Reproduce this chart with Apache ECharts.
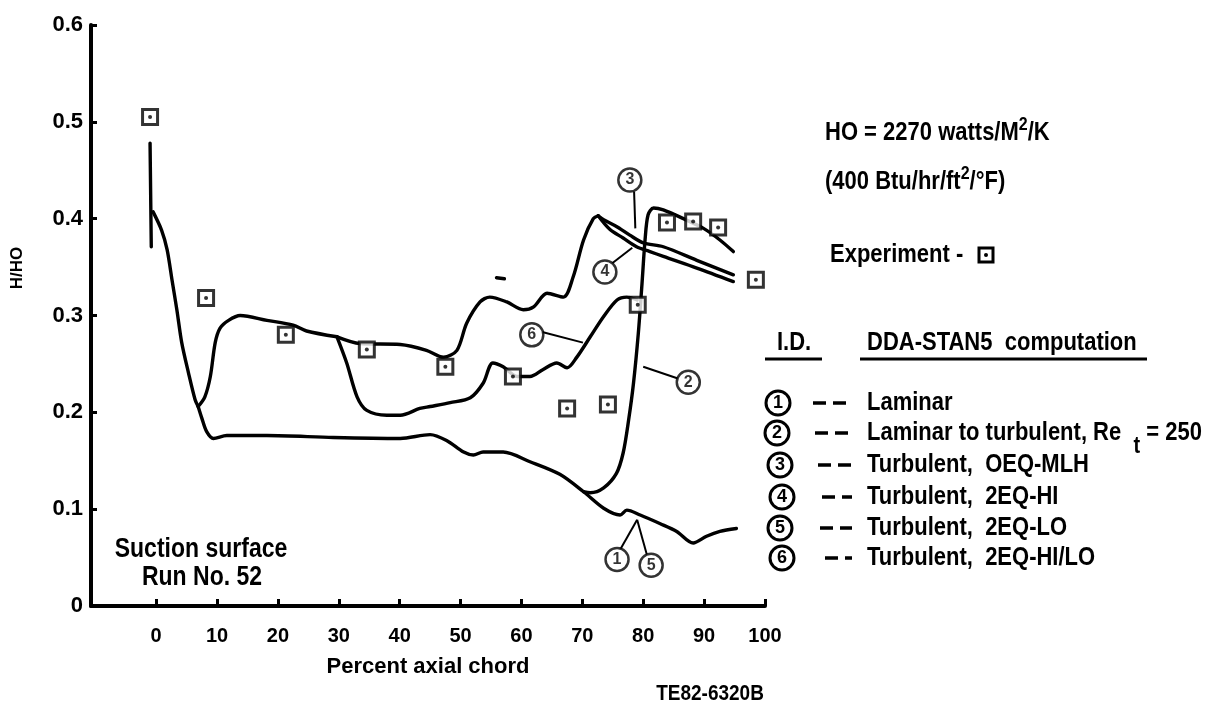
<!DOCTYPE html>
<html>
<head>
<meta charset="utf-8">
<script src="https://cdn.jsdelivr.net/npm/echarts@6/dist/echarts.min.js"></script>
<style>
  html, body { margin: 0; padding: 0; background: #fff; }
  #chart { width: 1225px; height: 701px; }
</style>
</head>
<body>
<div id="chart"></div>
<script>
// ---- data -------------------------------------------------------------
const xTicks = [0, 10, 20, 30, 40, 50, 60, 70, 80, 90, 100];

// Experiment (boxed points)
const expX = [-1.0, 8.2, 21.3, 34.6, 47.5, 58.6, 67.5, 74.2, 79.1, 83.9, 88.2, 92.3, 98.5];
const expY = [0.505, 0.318, 0.280, 0.265, 0.247, 0.237, 0.204, 0.208, 0.311, 0.396, 0.397, 0.391, 0.337];

// Stagnation spike at the leading edge
const spikeX = [-1.0, -0.8];
const spikeY = [0.478, 0.371];

// Leading-edge drop common to every computation
const leadX = [-0.5, 0.9, 1.8, 2.6, 3.4, 4.2, 5.3, 6.4, 6.9];
const leadY = [0.407, 0.388, 0.368, 0.337, 0.306, 0.272, 0.241, 0.213, 0.206];

// (1) Laminar and (5) Turbulent 2EQ-LO
const laminarX = [6.9, 7.5, 8.3, 9.4, 11.6, 18.2, 29.1, 40.1, 45.0, 47.7, 50.5, 52.1, 53.7, 57.0, 61.4, 66.3, 70.2, 73.5, 76.2, 77.3, 79.5, 82.8, 85.5, 88.2, 90.4, 92.6, 95.3];
const laminarY = [0.206, 0.194, 0.180, 0.173, 0.176, 0.176, 0.174, 0.173, 0.177, 0.171, 0.159, 0.156, 0.159, 0.159, 0.149, 0.136, 0.118, 0.101, 0.094, 0.099, 0.094, 0.085, 0.077, 0.065, 0.072, 0.077, 0.080];

// Turbulent plateau shared by (3), (4) and (6)
const plateauX = [6.9, 8.0, 8.9, 9.7, 10.5, 11.9, 13.8, 18.2, 22.5, 24.7, 29.7];
const plateauY = [0.206, 0.216, 0.237, 0.272, 0.287, 0.295, 0.300, 0.295, 0.290, 0.284, 0.278];

// Rise shared by (3) and (4)
const riseX = [29.7, 33.5, 40.1, 44.4, 47.2, 49.4, 51.0, 53.2, 54.8, 57.6, 60.3, 62.0, 64.2, 66.9, 68.5, 70.2, 71.8, 72.6];
const riseY = [0.278, 0.271, 0.270, 0.264, 0.257, 0.264, 0.292, 0.314, 0.319, 0.314, 0.306, 0.309, 0.323, 0.319, 0.340, 0.378, 0.400, 0.403];

// (3) Turbulent, 0EQ-MLH
const c3X = [72.6, 73.5, 75.6, 77.8, 80.0, 83.3, 88.8, 94.8];
const c3Y = [0.403, 0.399, 0.392, 0.383, 0.375, 0.371, 0.357, 0.342];

// (4) Turbulent, 2EQ-HI
const c4X = [72.6, 74.5, 76.7, 78.9, 81.1, 83.3, 88.8, 94.8];
const c4Y = [0.403, 0.389, 0.380, 0.371, 0.366, 0.361, 0.349, 0.335];

// (6) Turbulent, 2EQ-HI/LO
const c6X = [29.7, 31.3, 33.0, 34.6, 37.9, 40.1, 43.3, 45.0, 48.3, 51.6, 53.7, 55.3, 57.0, 59.3, 61.4, 63.5, 65.8, 67.5, 69.1, 71.3, 73.5, 75.7, 77.3, 79.0];
const c6Y = [0.278, 0.251, 0.216, 0.202, 0.197, 0.197, 0.204, 0.206, 0.210, 0.215, 0.230, 0.251, 0.247, 0.237, 0.237, 0.244, 0.251, 0.246, 0.257, 0.278, 0.299, 0.316, 0.319, 0.316];

// (2) Laminar to turbulent, Re_t = 250
const c2X = [70.2, 71.3, 73.5, 75.6, 76.7, 77.6, 78.4, 79.2, 79.8, 80.3, 80.8, 81.7, 83.3, 86.6, 89.9, 92.6, 94.8];
const c2Y = [0.118, 0.117, 0.122, 0.137, 0.158, 0.192, 0.230, 0.282, 0.333, 0.378, 0.404, 0.411, 0.409, 0.400, 0.390, 0.378, 0.366];

// Small stray stroke above curve (6)
const strokeX = [55.9, 57.2];
const strokeY = [0.339, 0.338];

// Circled curve identifiers and their leader lines
const tagText = ['3', '4', '6', '2', '1', '5'];
const tagX = [77.8, 73.7, 61.7, 87.4, 75.7, 81.3];
const tagY = [0.440, 0.345, 0.280, 0.231, 0.048, 0.042];
const leaderFromX = [78.5, 74.9, 63.4, 80.0, 76.2, 80.6];
const leaderFromY = [0.428, 0.354, 0.283, 0.247, 0.058, 0.053];
const leaderToX = [78.7, 78.2, 70.1, 85.7, 79.0, 79.0];
const leaderToY = [0.390, 0.370, 0.272, 0.235, 0.089, 0.089];

// Legend rows (rich-text markup: {s|..} superscript, {b|..} subscript)
const legendIds = ['1', '2', '3', '4', '5', '6'];
const legendLabels = ['Laminar', 'Laminar to turbulent, Re  {b|t} = 250', 'Turbulent,  OEQ-MLH', 'Turbulent,  2EQ-HI', 'Turbulent,  2EQ-LO', 'Turbulent,  2EQ-HI/LO'];

// ---- chart ------------------------------------------------------------
const FONT = "'Liberation Sans', Arial, sans-serif";
const pairs = (xs, ys) => xs.map((x, i) => [x, ys[i]]);

function curve(name, xs, ys, smooth) {
  return {
    type: 'line', name: name, data: pairs(xs, ys),
    smooth: smooth === undefined ? 0.3 : smooth,
    symbol: 'none', silent: true, z: 2,
    lineStyle: { color: '#000', width: 3.4, cap: 'round', join: 'round' }
  };
}

const series = [
  curve('spike', spikeX, spikeY, false),
  curve('leading edge', leadX, leadY),
  curve('Laminar / 2EQ-LO', laminarX, laminarY),
  curve('turbulent plateau', plateauX, plateauY),
  curve('turbulent rise', riseX, riseY),
  curve('0EQ-MLH', c3X, c3Y),
  curve('2EQ-HI', c4X, c4Y),
  curve('2EQ-HI/LO', c6X, c6Y),
  curve('Laminar to turbulent', c2X, c2Y),
  curve('stroke', strokeX, strokeY, false)
];

tagText.forEach((t, i) => {
  series.push({
    type: 'line', name: 'leader ' + t, silent: true, symbol: 'none', z: 3,
    data: [[leaderFromX[i], leaderFromY[i]], [leaderToX[i], leaderToY[i]]],
    lineStyle: { color: '#000', width: 2 }
  });
});

series.push({
  type: 'scatter', name: 'tags', silent: true, z: 4,
  symbol: 'circle', symbolSize: 23,
  itemStyle: { color: '#fff', borderColor: '#000', borderWidth: 2.5 },
  label: { show: true, position: 'inside', color: '#000', fontSize: 16, fontWeight: 'bold', fontFamily: FONT,
           formatter: p => tagText[p.dataIndex] },
  data: pairs(tagX, tagY)
});

series.push({
  type: 'scatter', name: 'Experiment', silent: true, z: 5,
  symbol: 'rect', symbolSize: 15,
  itemStyle: { color: '#fff', borderColor: '#000', borderWidth: 3 },
  data: pairs(expX, expY)
});
series.push({
  type: 'scatter', name: 'Experiment centre', silent: true, z: 6,
  symbol: 'circle', symbolSize: 4,
  itemStyle: { color: '#000' },
  data: pairs(expX, expY)
});

// ---- text blocks ------------------------------------------------------
const RICH = {
  s: { fontSize: 16, fontWeight: 'bold', fontFamily: FONT, fill: '#000', padding: [0, 0, 13, 0] },
  b: { fontSize: 20, fontWeight: 'bold', fontFamily: FONT, fill: '#000', padding: [22, 0, 0, 0] }
};

function txt(text, x, y, size, extra) {
  return Object.assign({
    type: 'text', x: x, y: y, scaleY: 1.2, silent: true,
    style: Object.assign({ text: text, fontSize: size, fontWeight: 'bold', fontFamily: FONT,
                           fill: '#000', align: 'left', verticalAlign: 'middle', rich: RICH },
                         (extra && extra.style) || {})
  }, extra && extra.el || {});
}

const legendRowY = [403, 433, 465, 497, 528, 558];
const legendCircleX = [778, 777, 780, 782, 780, 782];
const legendDashX = [813, 815, 818, 822, 820, 825];

const graphics = [
  txt('H/HO', 17, 268, 17, { el: { rotation: Math.PI / 2, scaleY: 1 }, style: { align: 'center' } }),
  txt('HO = 2270 watts/M{s|2}/K', 825, 133, 22),
  txt('(400 Btu/hr/ft{s|2}/°F)', 825, 182, 22),
  txt('Experiment -', 830, 255, 22),
  { type: 'rect', silent: true, shape: { x: 979, y: 248, width: 14, height: 14 },
    style: { fill: '#fff', stroke: '#000', lineWidth: 3 } },
  { type: 'circle', silent: true, shape: { cx: 986, cy: 255, r: 2 }, style: { fill: '#000' } },
  txt('I.D.', 777, 343, 22),
  txt('DDA-STAN5  computation', 867, 343, 22),
  { type: 'line', silent: true, shape: { x1: 765, y1: 359, x2: 822, y2: 359 }, style: { stroke: '#000', lineWidth: 3 } },
  { type: 'line', silent: true, shape: { x1: 860, y1: 359, x2: 1147, y2: 359 }, style: { stroke: '#000', lineWidth: 3 } },
  txt('Suction surface', 201, 549, 23, { style: { align: 'center' } }),
  txt('Run No. 52', 202, 577, 23, { style: { align: 'center' } }),
  txt('TE82-6320B', 710, 694, 19, { style: { align: 'center' } })
];

legendIds.forEach((id, i) => {
  const y = legendRowY[i];
  graphics.push({ type: 'circle', silent: true, shape: { cx: legendCircleX[i], cy: y, r: 12 },
                  style: { fill: '#fff', stroke: '#000', lineWidth: 3 } });
  graphics.push(txt(id, legendCircleX[i], y, 18, { el: { scaleY: 1 }, style: { align: 'center' } }));
  graphics.push({ type: 'line', silent: true, shape: { x1: legendDashX[i], y1: y, x2: 852, y2: y },
                  style: { stroke: '#000', lineWidth: 3.5, lineDash: [13, 7] } });
  graphics.push(txt(legendLabels[i], 867, y, 22));
});

const chart = echarts.init(document.getElementById('chart'), null, { renderer: 'canvas' });
chart.setOption({
  animation: false,
  backgroundColor: '#fff',
  grid: { left: 91, right: 460, top: 25, bottom: 95, containLabel: false },
  xAxis: {
    type: 'value', min: -10.7, max: 100,
    axisLine: { show: true, onZero: false, lineStyle: { color: '#000', width: 4 } },
    axisTick: { show: true, inside: true, length: 7, customValues: xTicks, lineStyle: { color: '#000', width: 3 } },
    axisLabel: { customValues: xTicks, color: '#000', fontSize: 20, fontWeight: 'bold', fontFamily: FONT, margin: 20 },
    splitLine: { show: false },
    name: 'Percent axial chord', nameLocation: 'middle', nameGap: 50,
    nameTextStyle: { color: '#000', fontSize: 22, fontWeight: 'bold', fontFamily: FONT }
  },
  yAxis: {
    type: 'value', min: 0, max: 0.6, interval: 0.1,
    axisLine: { show: true, onZero: false, lineStyle: { color: '#000', width: 4 } },
    axisTick: { show: true, inside: true, length: 6, lineStyle: { color: '#000', width: 3 } },
    axisLabel: { color: '#000', fontSize: 22, fontWeight: 'bold', fontFamily: FONT, margin: 8 },
    splitLine: { show: false }
  },
  graphic: graphics,
  series: series
});
</script>
</body>
</html>
